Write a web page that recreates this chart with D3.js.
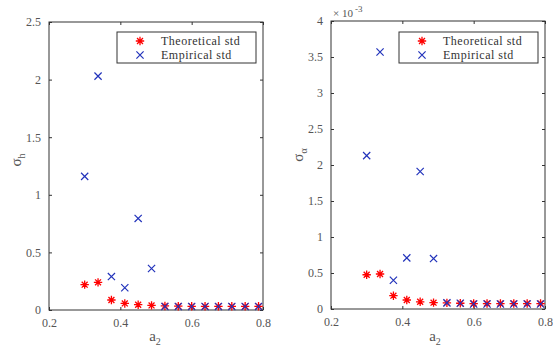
<!DOCTYPE html>
<html><head><meta charset="utf-8">
<script src="https://cdn.jsdelivr.net/npm/d3@7"></script>
<style>body{margin:0;background:#fff}svg{display:block}svg text{font-family:'Liberation Serif','DejaVu Serif','Times New Roman',serif !important}</style>
</head><body><svg id="c" width="553" height="350"></svg>
<script>
const a2 = [0.3,0.3375,0.375,0.4125,0.45,0.4875,0.525,0.5625,0.6,0.6375,0.675,0.7125,0.75,0.7875];
const theoH = [0.22,0.24,0.087,0.057,0.046,0.04,0.035,0.033,0.032,0.032,0.032,0.032,0.032,0.032];
const empH  = [1.16,2.03,0.29,0.193,0.795,0.36,0.03,0.03,0.03,0.03,0.03,0.03,0.03,0.03];
const theoA = [0.476,0.486,0.185,0.125,0.10,0.088,0.085,0.08,0.076,0.076,0.076,0.076,0.076,0.076];
const empA  = [2.13,3.57,0.40,0.71,1.91,0.70,0.085,0.08,0.07,0.07,0.07,0.07,0.07,0.07];
const xTicks = [0.2,0.4,0.6,0.8];
const yTicksH = [0,0.5,1,1.5,2,2.5];
const yTicksA = [0,0.5,1,1.5,2,2.5,3,3.5,4];
const legendLabels = ["Theoretical std","Empirical std"];

const svg = d3.select("#c");
const axCol = "#333", lblCol = "#555";

function panel(o){
  const g = svg.append("g");
  const x = d3.scaleLinear().domain([0.2,0.8]).range([o.x0,o.x1]);
  const y = d3.scaleLinear().domain([0,o.ymax]).range([o.y1,o.y0]);
  g.append("rect").attr("x",o.x0).attr("y",o.y0).attr("width",o.x1-o.x0).attr("height",o.y1-o.y0)
    .attr("fill","none").attr("stroke",axCol).attr("stroke-width",1);
  const fmt = d=>String(d);
  g.append("g").attr("transform",`translate(0,${o.y1})`)
    .call(d3.axisBottom(x).tickValues(xTicks).tickFormat(fmt).tickSizeInner(-3).tickSizeOuter(0).tickPadding(8))
    .call(s=>{s.attr("font-family",null);s.select(".domain").remove();s.selectAll("line").attr("stroke",axCol);s.selectAll("text").attr("fill",lblCol).style("font-size","12px");});
  g.append("g").attr("transform",`translate(0,${o.y0})`)
    .call(d3.axisTop(x).tickValues(xTicks).tickFormat("").tickSizeInner(-3).tickSizeOuter(0))
    .call(s=>{s.select(".domain").remove();s.selectAll("line").attr("stroke",axCol);});
  g.append("g").attr("transform",`translate(${o.x0},0)`)
    .call(d3.axisLeft(y).tickValues(o.yTicks).tickFormat(fmt).tickSizeInner(-3).tickSizeOuter(0).tickPadding(8))
    .call(s=>{s.attr("font-family",null);s.select(".domain").remove();s.selectAll("line").attr("stroke",axCol);s.selectAll("text").attr("fill",lblCol).style("font-size","12px");});
  g.append("g").attr("transform",`translate(${o.x1},0)`)
    .call(d3.axisRight(y).tickValues(o.yTicks).tickFormat("").tickSizeInner(-3).tickSizeOuter(0))
    .call(s=>{s.select(".domain").remove();s.selectAll("line").attr("stroke",axCol);});

  const star = (sel,cx,cy,r)=>{
    const p = [];
    for(let k=0;k<4;k++){const a=k*Math.PI/4;p.push(`M${cx-r*Math.cos(a)},${cy-r*Math.sin(a)}L${cx+r*Math.cos(a)},${cy+r*Math.sin(a)}`);}
    sel.append("path").attr("d",p.join("")).attr("stroke","#ff0000").attr("stroke-width",1.3).attr("fill","none");
  };
  const cross = (sel,cx,cy,r)=>{
    sel.append("path").attr("d",`M${cx-r},${cy-r}L${cx+r},${cy+r}M${cx-r},${cy+r}L${cx+r},${cy-r}`)
      .attr("stroke","#2233bb").attr("stroke-width",1.2).attr("fill","none");
  };
  const mk = g.append("g");
  a2.forEach((v,i)=>star(mk,x(v),y(o.theo[i]),4.2));
  a2.forEach((v,i)=>cross(mk,x(v),y(o.emp[i]),3.6));

  const L = o.leg;
  g.append("rect").attr("x",L.x).attr("y",L.y).attr("width",L.w).attr("height",L.h)
    .attr("fill","#fff").attr("stroke",axCol).attr("stroke-width",1);
  star(g,L.mx,L.y+9,4.2);
  cross(g,L.mx,L.y+23,3.6);
  legendLabels.forEach((t,i)=>g.append("text").attr("x",L.tx).attr("y",L.y+9+i*14).attr("dy","0.35em")
    .attr("fill","#333").style("font-size","12px").style("letter-spacing","0.5px").text(t));

  const xl = g.append("text").attr("x",o.xlx).attr("y",341).attr("text-anchor","middle")
    .attr("fill",lblCol).style("font-size","15px");
  xl.append("tspan").text("a");
  xl.append("tspan").attr("dy",4).style("font-size","10px").text("2");
  const yl = g.append("text").attr("transform",`translate(${o.ylx},${o.yly}) rotate(-90)`).attr("text-anchor","middle")
    .attr("fill",lblCol).style("font-size","15px");
  yl.append("tspan").text("σ");
  yl.append("tspan").attr("dy",4).style("font-size","10px").text(o.sub);
  return g;
}

panel({x0:49,x1:263,y0:22,y1:310,ymax:2.5,yTicks:yTicksH,theo:theoH,emp:empH,
  leg:{x:117,y:32,w:139,h:31,mx:140,tx:161},xlx:155,ylx:21,yly:160,sub:"h"});
const g2 = panel({x0:331,x1:545,y0:21,y1:309,ymax:4,yTicks:yTicksA,theo:theoA,emp:empA,
  leg:{x:399,y:32,w:139,h:31,mx:422,tx:443},xlx:435,ylx:303,yly:155,sub:"α"});
const ex = g2.append("text").attr("x",333).attr("y",17).attr("fill",lblCol)
  .style("font-size","11px");
ex.append("tspan").text("× 10");
ex.append("tspan").attr("dy",-5).attr("dx",2).style("font-size","9px").text("-3");
</script></body></html>
